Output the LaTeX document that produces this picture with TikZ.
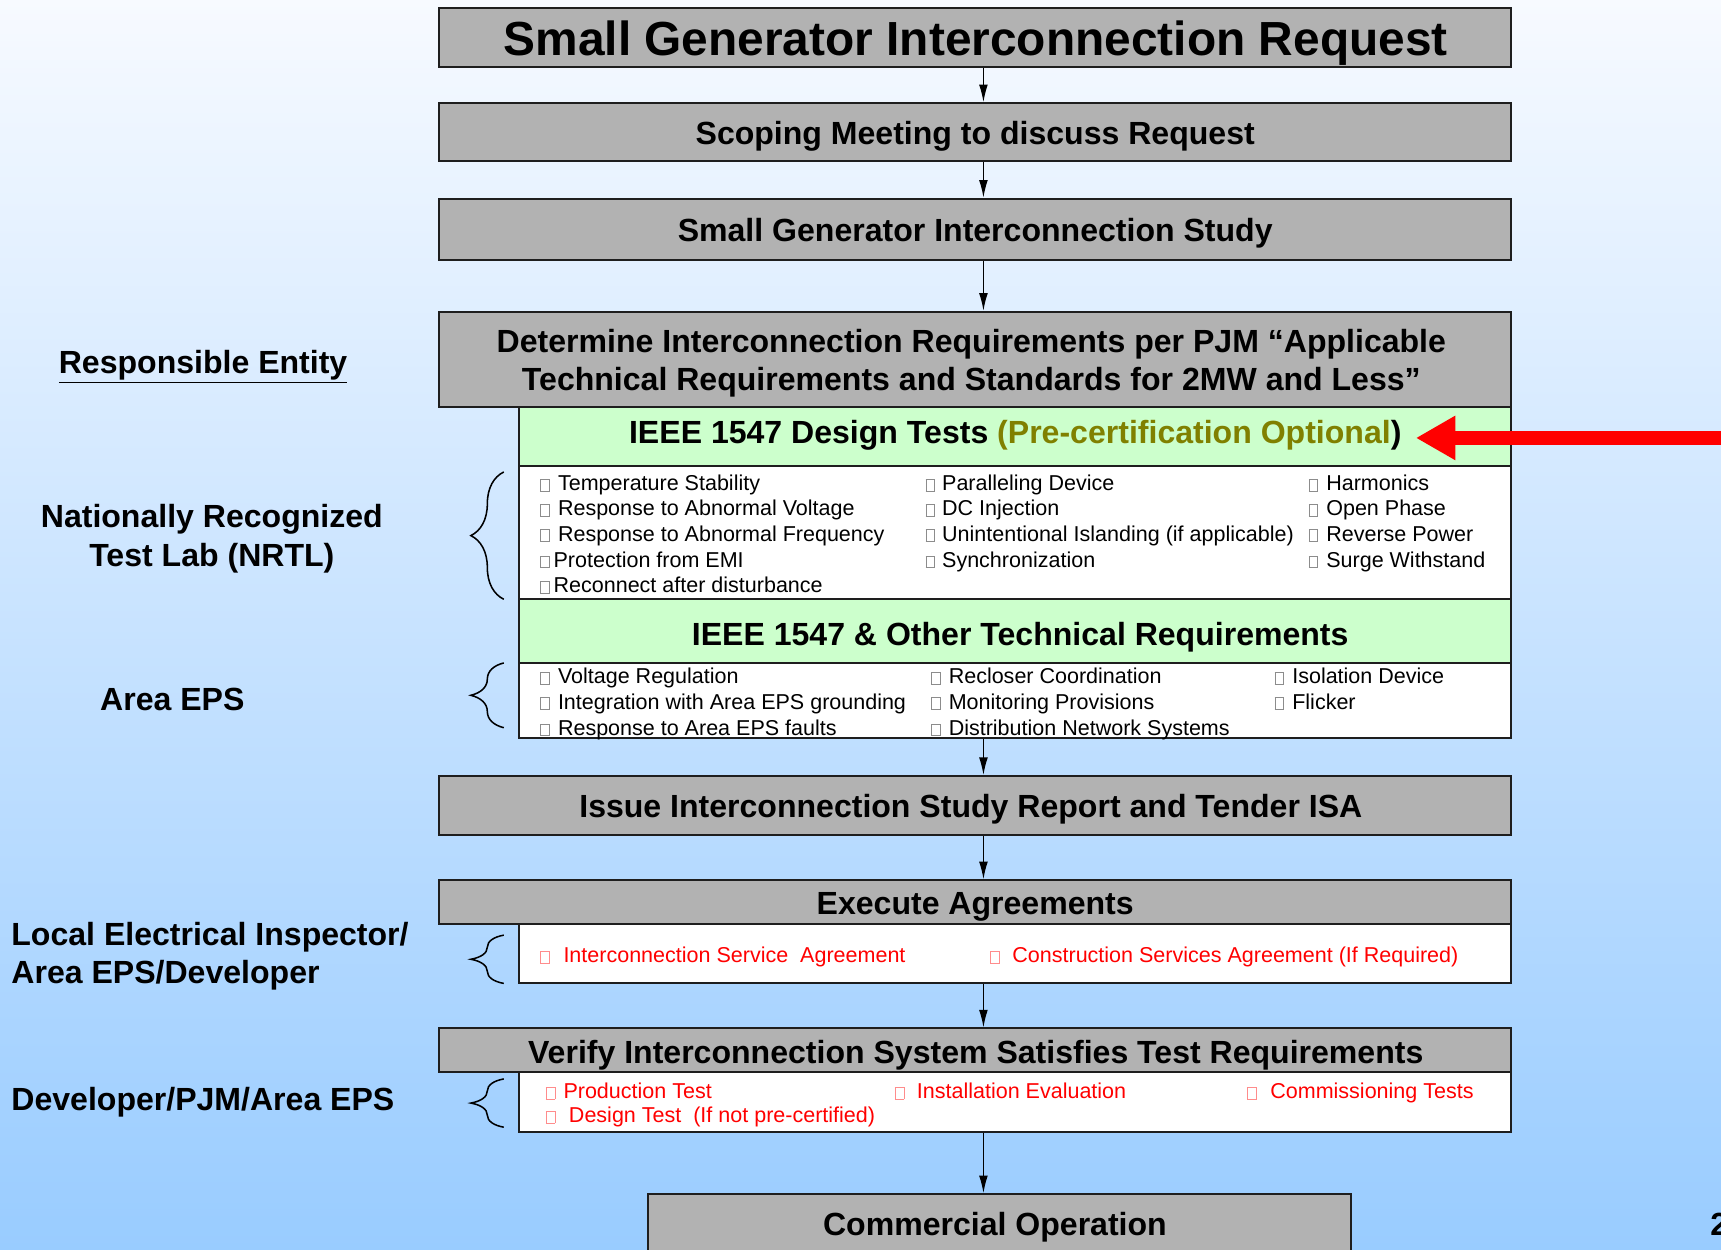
\documentclass[tikz,border=0pt]{standalone}
\usepackage{fontspec}
\setmainfont{Liberation Sans}
\usetikzlibrary{arrows.meta,fit,decorations.pathreplacing,calc}
\definecolor{boxgray}{RGB}{178,178,178}
\definecolor{boxgreen}{RGB}{204,255,204}
\definecolor{olivetxt}{RGB}{128,128,0}
\definecolor{bgtop}{RGB}{247,250,255}
\definecolor{bgbot}{RGB}{153,204,255}
\definecolor{edge}{RGB}{30,30,30}
\newcommand{\cbx}[1]{\makebox[#1][l]{\color{.!45!white}\setlength{\fboxsep}{0pt}\setlength{\fboxrule}{0.35pt}\fbox{\rule{0pt}{5pt}\hspace{3.6pt}}}}
\begin{document}
\begin{tikzpicture}[x=0.5pt,y=-0.5pt,
 gbox/.style={draw=edge,line width=0.9pt,fill=boxgray,inner sep=0pt},
 grbox/.style={draw=edge,line width=0.9pt,fill=boxgreen,inner sep=0pt},
 wbox/.style={draw=edge,line width=0.9pt,fill=white,inner sep=0pt},
 big/.style={font=\bfseries\fontsize{14.6}{17.5}\selectfont, align=center, inner sep=0pt},
 item/.style={font=\fontsize{9.8}{11.5}\selectfont, anchor=base west, inner sep=0pt},
 ritem/.style={item, text=red},
 arr/.style={-{Latex[length=8pt,width=4pt]}, line width=0.6pt},
 brc/.style={decorate, decoration={brace,amplitude=15pt}, line width=0.7pt},
 lab/.style={font=\bfseries\fontsize{14.6}{17.5}\selectfont, inner sep=0pt}
]
\shade[top color=bgtop, bottom color=bgbot] (0,0) rectangle (1568,1138);
\useasboundingbox (0,0) rectangle (1568,1138);

% main boxes
\node[gbox, fit={(400,7) (1377,61)}] (req) {};
\node[font=\bfseries\fontsize{21.8}{26}\selectfont, inner sep=0pt, anchor=base] (reqt) at (889,51) {Small Generator Interconnection Request};

\node[gbox, fit={(400,94) (1377,147)}] (scope) {};
\node[big, anchor=base] (scopet) at (888.5,132) {Scoping Meeting to discuss Request};

\node[gbox, fit={(400,181) (1377,237)}] (study) {};
\node[big, anchor=base] (studyt) at (888.5,220) {Small Generator Interconnection Study};

\node[gbox, fit={(400,284) (1377,371)}] (det) {};
\node[big] (dett) at (885,331) {Determine Interconnection Requirements per PJM “Applicable\\Technical Requirements and Standards for 2MW and Less”};

\node[grbox, fit={(473,371) (1377,425)}] (g1) {};
\node[big, anchor=base] (g1t) at (925,404) {IEEE 1547 Design Tests \textcolor{olivetxt}{(Pre-certification Optional})};

\node[wbox, fit={(473,425) (1377,546)}] (l1) {};
\node[item] (l1a) at (492,447) {\cbx{8pt}Temperature Stability};
\node[item] (l1b) at (492,470) {\cbx{8pt}Response to Abnormal Voltage};
\node[item] (l1c) at (492,493) {\cbx{8pt}Response to Abnormal Frequency};
\node[item] (l1d) at (492,517) {\cbx{6pt}Protection from EMI};
\node[item] (l1e) at (492,540) {\cbx{6pt}Reconnect after disturbance};
\node[item] (l1f) at (843,447) {\cbx{7.5pt}Paralleling Device};
\node[item] (l1g) at (843,470) {\cbx{7.5pt}DC Injection};
\node[item] (l1h) at (843,493) {\cbx{7.5pt}Unintentional Islanding (if applicable)};
\node[item] (l1i) at (843,517) {\cbx{7.5pt}Synchronization};
\node[item] (l1j) at (1192,447) {\cbx{8pt}Harmonics};
\node[item] (l1k) at (1192,470) {\cbx{8pt}Open Phase};
\node[item] (l1l) at (1192,493) {\cbx{8pt}Reverse Power};
\node[item] (l1m) at (1192,517) {\cbx{8pt}Surge Withstand};

\node[grbox, fit={(473,546) (1377,604)}] (g2) {};
\node[big, anchor=base] (g2t) at (929.5,588) {IEEE 1547 \& Other Technical Requirements};

\node[wbox, fit={(473,604) (1377,672)}] (l2) {};
\node[item] (l2a) at (492,623) {\cbx{8pt}Voltage Regulation};
\node[item] (l2b) at (492,646) {\cbx{8pt}Integration with Area EPS grounding};
\node[item] (l2c) at (492,670) {\cbx{8pt}Response to Area EPS faults};
\node[item] (l2d) at (848,623) {\cbx{8pt}Recloser Coordination};
\node[item] (l2e) at (848,646) {\cbx{8pt}Monitoring Provisions};
\node[item] (l2f) at (848,670) {\cbx{8pt}Distribution Network Systems};
\node[item] (l2g) at (1161,623) {\cbx{8pt}Isolation Device};
\node[item] (l2h) at (1161,646) {\cbx{8pt}Flicker};

\node[gbox, fit={(400,707) (1377,761)}] (issue) {};
\node[big, anchor=base] (issuet) at (884.5,745) {Issue Interconnection Study Report and Tender ISA};

\node[gbox, fit={(400,802) (1377,842)}] (exec) {};
\node[big, anchor=base] (exect) at (888.5,833) {Execute Agreements};
\node[wbox, fit={(473,842) (1377,896)}] (el) {};
\node[ritem] (ela) at (492,877) {\cbx{10.5pt}Interconnection Service\ \ Agreement};
\node[ritem] (elb) at (902,877) {\cbx{10pt}Construction Services Agreement (If Required)};

\node[gbox, fit={(400,937) (1377,977)}] (ver) {};
\node[big, anchor=base] (vert) at (889,969) {Verify Interconnection System Satisfies Test Requirements};
\node[wbox, fit={(473,977) (1377,1031)}] (vl) {};
\node[ritem] (vla) at (497,1001) {\cbx{8pt}Production Test};
\node[ritem] (vlb) at (815,1001) {\cbx{10pt}Installation Evaluation};
\node[ritem] (vlc) at (1136,1001) {\cbx{10.5pt}Commissioning Tests};
\node[ritem] (vld) at (497,1023) {\cbx{10.5pt}Design Test\ \ (If not pre-certified)};

\node[gbox, fit={(590,1088) (1231,1170)}] (com) {};
\node[big, anchor=base] (comt) at (906.5,1126) {Commercial Operation};

% connectors
\coordinate (ax) at (896,0);
\draw[arr] (req.south -| ax) -- (scope.north -| ax);
\draw[arr] (scope.south -| ax) -- (study.north -| ax);
\draw[arr] (study.south -| ax) -- (det.north -| ax);
\draw[arr] (l2.south -| ax) -- (issue.north -| ax);
\draw[arr] (issue.south -| ax) -- (exec.north -| ax);
\draw[arr] (el.south -| ax) -- (ver.north -| ax);
\draw[arr] (vl.south -| ax) -- (com.north -| ax);

% red arrow
\coordinate (rs) at (1572,399);
\coordinate (rt) at (1290,399);
\draw[red, line width=6.5pt, -{Triangle[length=18pt,width=19pt]}] (rs) -- (rt);

% braces
\draw[brc] (459,546) -- (459,430);
\draw[brc] (459,663) -- (459,604);
\draw[brc] (459,896) -- (459,852);
\draw[brc] (459,1027) -- (459,983);

% left labels
\node[lab, anchor=base] (resp) at (185,340) {\underline{Responsible Entity}};
\node[lab, align=center] (nrtl) at (193,491) {Nationally Recognized\\Test Lab (NRTL)};
\node[lab, anchor=base] (aeps) at (157,647) {Area EPS};
\node[lab, align=left, anchor=west] (lei) at (10,871) {Local Electrical Inspector/\\Area EPS/Developer};
\node[lab, anchor=base west] (dev) at (10,1012) {Developer/PJM/Area EPS};
\node[lab, anchor=base west] (pg) at (1558,1126) {2};
\end{tikzpicture}
\end{document}
